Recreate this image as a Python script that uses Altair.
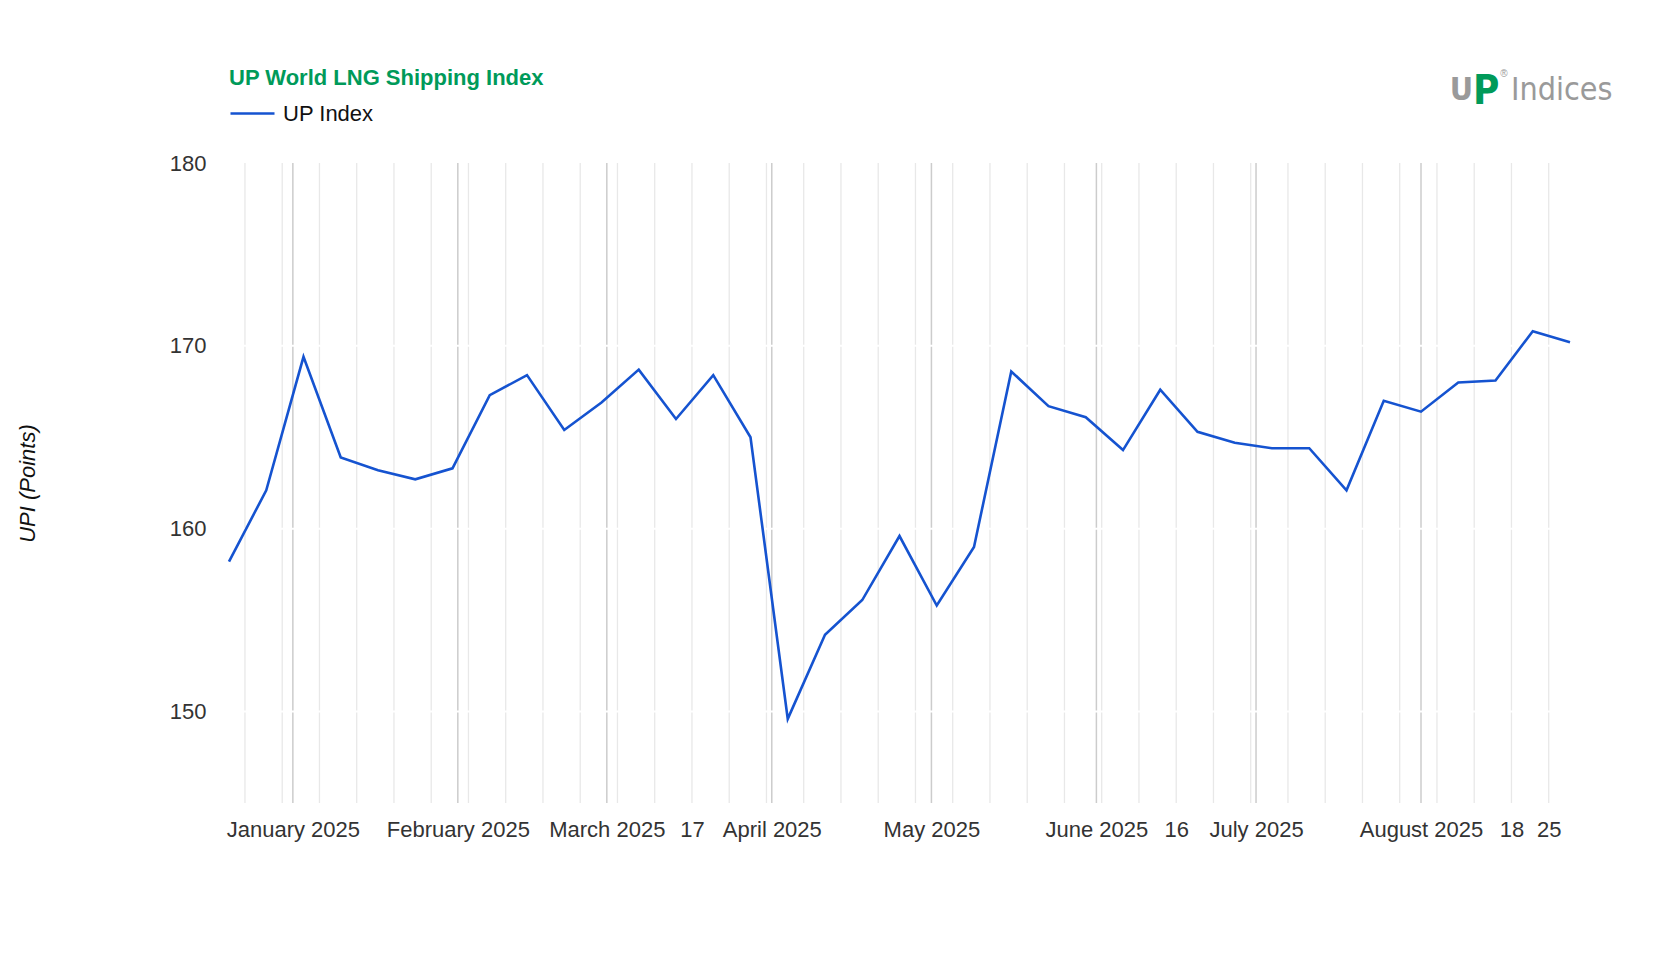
import altair as alt
import pandas as pd

# ---- data (weekly, Fridays) ----
dates = [
    "2024-12-20", "2024-12-27", "2025-01-03", "2025-01-10", "2025-01-17", "2025-01-24",
    "2025-01-31", "2025-02-07", "2025-02-14", "2025-02-21", "2025-02-28", "2025-03-07",
    "2025-03-14", "2025-03-21", "2025-03-28", "2025-04-04", "2025-04-11", "2025-04-18",
    "2025-04-25", "2025-05-02", "2025-05-09", "2025-05-16", "2025-05-23", "2025-05-30",
    "2025-06-06", "2025-06-13", "2025-06-20", "2025-06-27", "2025-07-04", "2025-07-11",
    "2025-07-18", "2025-07-25", "2025-08-01", "2025-08-08", "2025-08-15", "2025-08-22",
    "2025-08-29",
]
up_index = [
    158.2, 162.1, 169.4, 163.9, 163.2, 162.7,
    163.3, 167.3, 168.4, 165.4, 166.9, 168.7,
    166.0, 168.4, 165.0, 149.6, 154.2, 156.1,
    159.6, 155.8, 159.0, 168.6, 166.7, 166.1,
    164.3, 167.6, 165.3, 164.7, 164.4, 164.4,
    162.1, 167.0, 166.4, 168.0, 168.1, 170.8,
    170.2,
]
series_name = "UP Index"
chart_title = "UP World LNG Shipping Index"
y_title = "UPI (Points)"

# grid / tick positions
week_lines = [d.strftime("%Y-%m-%d") for d in pd.date_range("2024-12-23", "2025-08-25", freq="7D")]
month_lines = ["2025-01-01", "2025-02-01", "2025-03-01", "2025-04-01",
               "2025-05-01", "2025-06-01", "2025-07-01", "2025-08-01"]
label_dates = [(2025, 1, 1), (2025, 2, 1), (2025, 3, 1), (2025, 3, 17), (2025, 4, 1),
               (2025, 5, 1), (2025, 6, 1), (2025, 6, 16), (2025, 7, 1), (2025, 8, 1),
               (2025, 8, 18), (2025, 8, 25)]
y_ticks = [150, 160, 170, 180]
y_white_lines = [150, 160, 170]

FONT = "Liberation Sans"
NARROW = "Liberation Sans Narrow, DejaVu Sans Condensed, Liberation Sans"
W, H = 1341, 640

xscale = alt.Scale(type="utc",
                   domain=[alt.DateTime(year=2024, month=12, date=20, utc=True),
                           alt.DateTime(year=2025, month=8, date=29, utc=True)],
                   nice=False)
yscale = alt.Scale(domain=[145, 180], nice=False, zero=False)

xaxis = alt.Axis(
    values=[alt.DateTime(year=y, month=m, date=d, utc=True) for (y, m, d) in label_dates],
    labelExpr="utcdate(datum.value) == 1 ? utcFormat(datum.value, '%B %Y') : toString(utcdate(datum.value))",
    grid=False, domain=False, ticks=False, labelOverlap=False, labelFlush=False,
    labelBound=False, labelPadding=16, labelFontSize=22, labelFont=FONT,
    labelColor="#333333",
)
yaxis = alt.Axis(
    values=y_ticks, grid=False, domain=False, ticks=False, labelPadding=23,
    labelFontSize=22, labelFont=FONT, labelColor="#333333",
    titleFont=FONT, titleFontSize=22, titleFontStyle="italic", titleFontWeight="normal",
    titleColor="#111111", titleX=-202, titleY=H / 2, titleAngle=-90,
    titleAlign="center", titleBaseline="middle",
)

df = pd.DataFrame({"date": dates, "value": up_index, "series": series_name})

weeks = alt.Chart(pd.DataFrame({"d": week_lines})).mark_rule(
    color="#e8e8e8", strokeWidth=1.3
).encode(x=alt.X("d:T", scale=xscale, axis=xaxis, title=None))

months = alt.Chart(pd.DataFrame({"d": month_lines})).mark_rule(
    color="#cccccc", strokeWidth=1.5
).encode(x=alt.X("d:T", scale=xscale, axis=xaxis, title=None))

hlines = alt.Chart(pd.DataFrame({"v": y_white_lines})).mark_rule(
    color="#ffffff", strokeWidth=2
).encode(y=alt.Y("v:Q", scale=yscale, axis=yaxis, title=y_title))

line = alt.Chart(df).mark_line(strokeWidth=2.6, strokeJoin="miter").encode(
    x=alt.X("date:T", scale=xscale, axis=xaxis, title=None),
    y=alt.Y("value:Q", scale=yscale, axis=yaxis, title=y_title),
    color=alt.Color(
        "series:N", scale=alt.Scale(range=["#1553d0"]),
        legend=alt.Legend(
            title=None, orient="none", legendX=0, legendY=-73, symbolType="stroke",
            symbolSize=1936, symbolStrokeWidth=2.6, labelFontSize=22, labelFont=FONT,
            labelColor="#111111", labelOffset=7, padding=0,
        ),
    ),
)

title = alt.Chart(pd.DataFrame({"t": [chart_title]})).mark_text(
    align="left", baseline="middle", font=FONT, fontSize=22, fontWeight="bold", color="#009a5a"
).encode(text="t:N", x=alt.value(0), y=alt.value(-85))

# logo
logo_u = alt.Chart(pd.DataFrame({"t": ["U"]})).mark_text(
    align="right", baseline="alphabetic", font=NARROW,
    fontSize=32, fontWeight="bold", color="#9a9a9a"
).encode(text="t:N", x=alt.value(1244), y=alt.value(-63))
logo_p = alt.Chart(pd.DataFrame({"t": ["P"]})).mark_text(
    align="left", baseline="alphabetic", font=NARROW,
    fontSize=40, fontWeight="bold", color="#009a5a"
).encode(text="t:N", x=alt.value(1244), y=alt.value(-59))
logo_r = alt.Chart(pd.DataFrame({"t": ["®"]})).mark_text(
    align="center", baseline="middle", font=FONT, fontSize=10, color="#9a9a9a"
).encode(text="t:N", x=alt.value(1275), y=alt.value(-89))
logo_i = alt.Chart(pd.DataFrame({"t": ["Indices"]})).mark_text(
    align="left", baseline="alphabetic", font=NARROW,
    fontSize=32, fontWeight="normal", color="#9a9a9a"
).encode(text="t:N", x=alt.value(1282), y=alt.value(-63))

chart = alt.layer(weeks, months, hlines, line, title, logo_u, logo_p, logo_r, logo_i).properties(
    width=W, height=H,
    autosize=alt.AutoSizeParams(type="none"),
    padding={"left": 221, "top": 155, "right": 97, "bottom": 149},
    background="#ffffff",
).configure_view(stroke=None)

chart.save("out.html", embed_options={"renderer": "svg", "actions": False})
